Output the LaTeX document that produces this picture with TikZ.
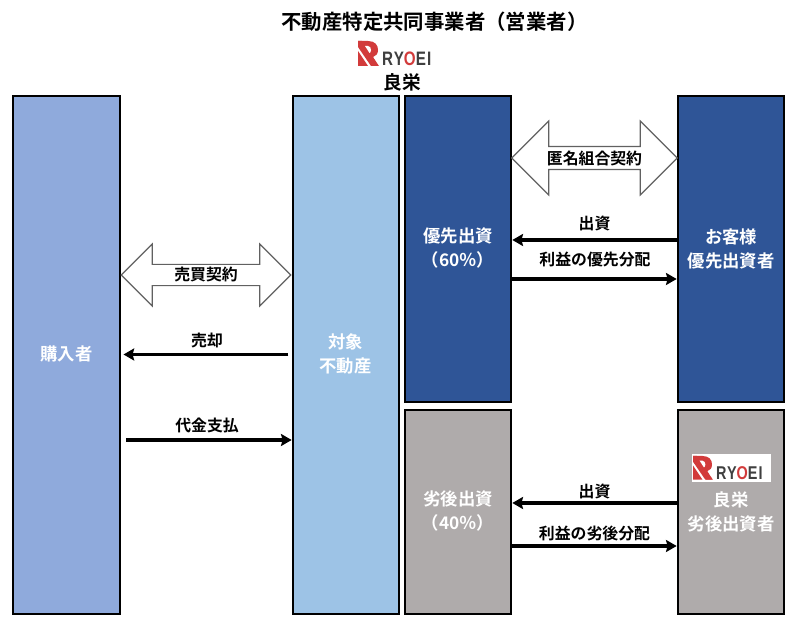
\documentclass[tikz,border=0pt]{standalone}
\usepackage{fontspec}
\setmainfont{Noto Sans CJK JP Bold}
\newfontfamily\latinlogo[LetterSpace=8]{Liberation Sans Bold}
\usetikzlibrary{shapes.arrows,arrows.meta}
\definecolor{buyerblue}{HTML}{8FAADC}
\definecolor{propblue}{HTML}{9DC3E6}
\definecolor{darkblue}{HTML}{2F5597}
\definecolor{warmgray}{HTML}{AFABAB}
\definecolor{logored}{HTML}{D23B3B}
\definecolor{logogray}{HTML}{3F3F3F}
\tikzset{
  x=0.75pt,y=-0.75pt,
  panel/.style={draw=black,line width=1.5pt,inner sep=0pt,text=white,font=\fontsize{13}{18}\selectfont,align=center,minimum width=80pt},
  plbl/.style={inner sep=0pt,text=white,font=\fontsize{13}{18}\selectfont,align=center},
  dblarrow/.style={double arrow,draw=black!62,fill=white,line width=0.9pt,inner sep=0pt,font=\fontsize{11.9}{14}\selectfont,text=black},
  conn/.style={line width=2.6pt,-{Stealth[length=8pt,width=9pt,inset=1.2pt]}},
  lbl/.style={inner sep=0pt,font=\fontsize{11.9}{14}\selectfont,text=black},
  logo/.pic={
    \fill[logored] (0,0) -- (10,0) .. controls (17,0) and (20,4) .. (20,9) .. controls (20,13) and (18,15) .. (15,16) -- (20,25) -- (14,25) -- cycle;
    \fill[logored] (0,0) -- (4,0) -- (21,25) -- (13,25) -- (0,6) -- cycle;
    \fill[logored] (0,10) -- (10,25) -- (0,25) -- cycle;
    \fill[white] (7,5) -- (10,5) .. controls (12,5) and (13,7) .. (13,9) .. controls (13,11) and (12,12) .. (11.5,12) -- cycle;
    \node[anchor=base west,inner sep=0pt,font=\latinlogo\fontsize{14.6}{15}\selectfont,xscale=0.78,transform shape,text=logogray] at (24,25) {RY{\color{logored}O}EI};
  }
}
\begin{document}
\begin{tikzpicture}
\useasboundingbox (0,0) rectangle (793,623);
\node[lbl,font=\fontsize{15.3}{18}\selectfont] (title) at (434.5,22) {不動産特定共同事業者（営業者）};
\pic at (358,41) {logo};
\node[lbl,font=\fontsize{14}{16}\selectfont] (ryoei) at (402,82) {良栄};

\node[panel,fill=buyerblue,minimum height=388.5pt] (buyer) at (66.5,355) {};
\node[panel,fill=propblue,minimum height=388.5pt] (prop) at (346,355) {};
\node[panel,fill=darkblue,minimum height=229.5pt] (senior) at (458,249) {};
\node[panel,fill=warmgray,minimum height=153pt] (junior) at (458,512) {};
\node[panel,fill=darkblue,minimum height=229.5pt] (customer) at (731,249) {};
\node[panel,fill=warmgray,minimum height=153pt] (ryoeiinv) at (731,512) {};
\node[plbl] (buyerlbl) at (66.5,354) {購入者};
\node[plbl] (proplbl) at (345.5,354) {対象\\不動産};
\node[plbl] (seniorlbl) at (458,248.5) {優先出資\\（60％）};
\node[plbl] (juniorlbl) at (458,511) {劣後出資\\（40％）};
\node[plbl] (customerlbl) at (731,249) {お客様\\優先出資者};
\node[plbl] (ryoeilbl) at (731,512) {良栄\\劣後出資者};
\fill[white] (692,454) rectangle (771,482);
\pic[scale=0.95] at (693,456) {logo};

\node[dblarrow,minimum height=124pt,minimum width=55.5pt,double arrow head extend=13.5pt] (anon) at (594.5,158) {匿名組合契約};
\node[dblarrow,minimum height=127pt,minimum width=46.5pt,double arrow head extend=11.6pt] (sale) at (206,275) {売買契約};

\draw[conn] (customer.west |- 0,240) -- (senior.east |- 0,240);
\node[lbl] (l1) at (594.5,223) {出資};
\draw[conn] (senior.east |- 0,279) -- (customer.west |- 0,279);
\node[lbl] (l2) at (595,260) {利益の優先分配};
\draw[conn] (ryoeiinv.west |- 0,503) -- (junior.east |- 0,503);
\node[lbl] (l3) at (594.5,491) {出資};
\draw[conn] (junior.east |- 0,546) -- (ryoeiinv.west |- 0,546);
\node[lbl] (l4) at (594.5,533) {利益の劣後分配};
\draw[conn,shorten <=2.5pt,shorten >=2pt] (prop.west |- 0,354.5) -- (buyer.east |- 0,354.5);
\node[lbl] (l5) at (207,340) {売却};
\draw[conn,shorten <=4pt] (buyer.east |- 0,440) -- (prop.west |- 0,440);
\node[lbl] (l6) at (207,425) {代金支払};
\end{tikzpicture}
\end{document}
